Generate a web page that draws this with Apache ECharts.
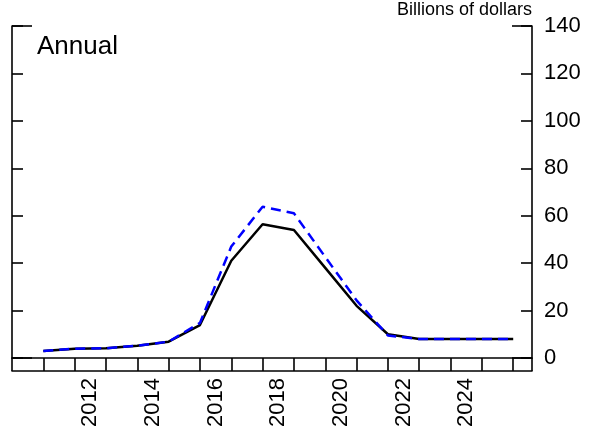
<!DOCTYPE html>
<html>
<head>
<meta charset="utf-8">
<script src="https://cdn.jsdelivr.net/npm/echarts@6/dist/echarts.min.js"></script>
<style>
html,body{margin:0;padding:0;background:#fff;}
#chart{width:595px;height:438px;}
</style>
</head>
<body>
<div id="chart"></div>
<script>
// Data
const years = [2011, 2012, 2013, 2014, 2015, 2016, 2017, 2018, 2019, 2020, 2021, 2022, 2023, 2024, 2025, 2026];
const solidValues = [3.0, 3.9, 4.1, 5.2, 6.9, 13.9, 41.0, 56.4, 54.0, 38.0, 22.0, 10.0, 8.0, 8.0, 8.0, 8.0];
const dashedValues = [3.0, 3.9, 4.1, 5.2, 6.9, 14.8, 47.0, 63.8, 61.0, 42.6, 24.3, 9.5, 8.0, 8.0, 8.0, 8.0];
const xTickLabels = [2012, 2014, 2016, 2018, 2020, 2022, 2024];
const yTicks = [0, 20, 40, 60, 80, 100, 120, 140];
const unitLabel = 'Billions of dollars';
const panelLabel = 'Annual';

const FONT = 'Liberation Sans, Arial, sans-serif';
const chart = echarts.init(document.getElementById('chart'), null, {renderer: 'canvas'});
const yMin = yTicks[0], yMax = yTicks[yTicks.length - 1];
const xMin = 2010, xMax = 2026.6;

function yAxisDef(position, interval, tickLen, showLine, showLabel) {
  return {
    type: 'value', position: position, min: yMin, max: yMax, interval: interval,
    axisLine: {show: showLine, lineStyle: {color: '#000', width: 1.6}},
    axisTick: {show: true, inside: true, length: tickLen, lineStyle: {color: '#000', width: 1.6}},
    axisLabel: {show: showLabel, color: '#000', fontSize: 22, fontFamily: FONT, margin: 12},
    splitLine: {show: false}
  };
}

chart.setOption({
  animation: false,
  backgroundColor: '#fff',
  grid: {left: 12, right: 63, top: 26, bottom: 80, containLabel: false},
  xAxis: [
    {
      type: 'value', min: xMin, max: xMax, interval: 1, position: 'bottom',
      axisLine: {show: true, onZero: false, lineStyle: {color: '#000', width: 1.6}},
      axisTick: {show: true, inside: false, length: 13, lineStyle: {color: '#000', width: 1.6}},
      axisLabel: {show: false},
      splitLine: {show: false}
    },
    {
      type: 'value', min: xMin, max: xMax, interval: 0.5, position: 'bottom', offset: 13,
      axisLine: {show: true, onZero: false, lineStyle: {color: '#000', width: 1.6}},
      axisTick: {show: false},
      axisLabel: {
        show: true, rotate: 90, margin: 7, color: '#000', fontSize: 22, fontFamily: FONT,
        formatter: function (v) {
          const f = Math.floor(v);
          if (Math.abs(v - f - 0.5) < 1e-6 && xTickLabels.indexOf(f) >= 0) return String(f);
          return '';
        }
      },
      splitLine: {show: false}
    }
  ],
  yAxis: [
    yAxisDef('right', 20, 11, true, true),
    yAxisDef('left', 20, 11, true, false),
    yAxisDef('right', 140, 20, false, false),
    yAxisDef('left', 140, 20, false, false)
  ],
  graphic: [
    {type: 'text', right: 63, top: 1, style: {text: unitLabel, fontSize: 18, fontFamily: FONT, fill: '#000'}},
    {type: 'text', left: 37, top: 34, style: {text: panelLabel, fontSize: 26, fontFamily: FONT, fill: '#000'}}
  ],
  series: [
    {
      type: 'line', xAxisIndex: 0, yAxisIndex: 0, symbol: 'none',
      data: years.map((y, i) => [y, solidValues[i]]),
      lineStyle: {color: '#000', width: 2.5, type: 'solid'}, z: 3
    },
    {
      type: 'line', xAxisIndex: 0, yAxisIndex: 0, symbol: 'none',
      data: years.map((y, i) => [y, dashedValues[i]]),
      lineStyle: {color: '#0000ff', width: 2.5, type: [10, 6]}, z: 4
    }
  ]
});
</script>
</body>
</html>
